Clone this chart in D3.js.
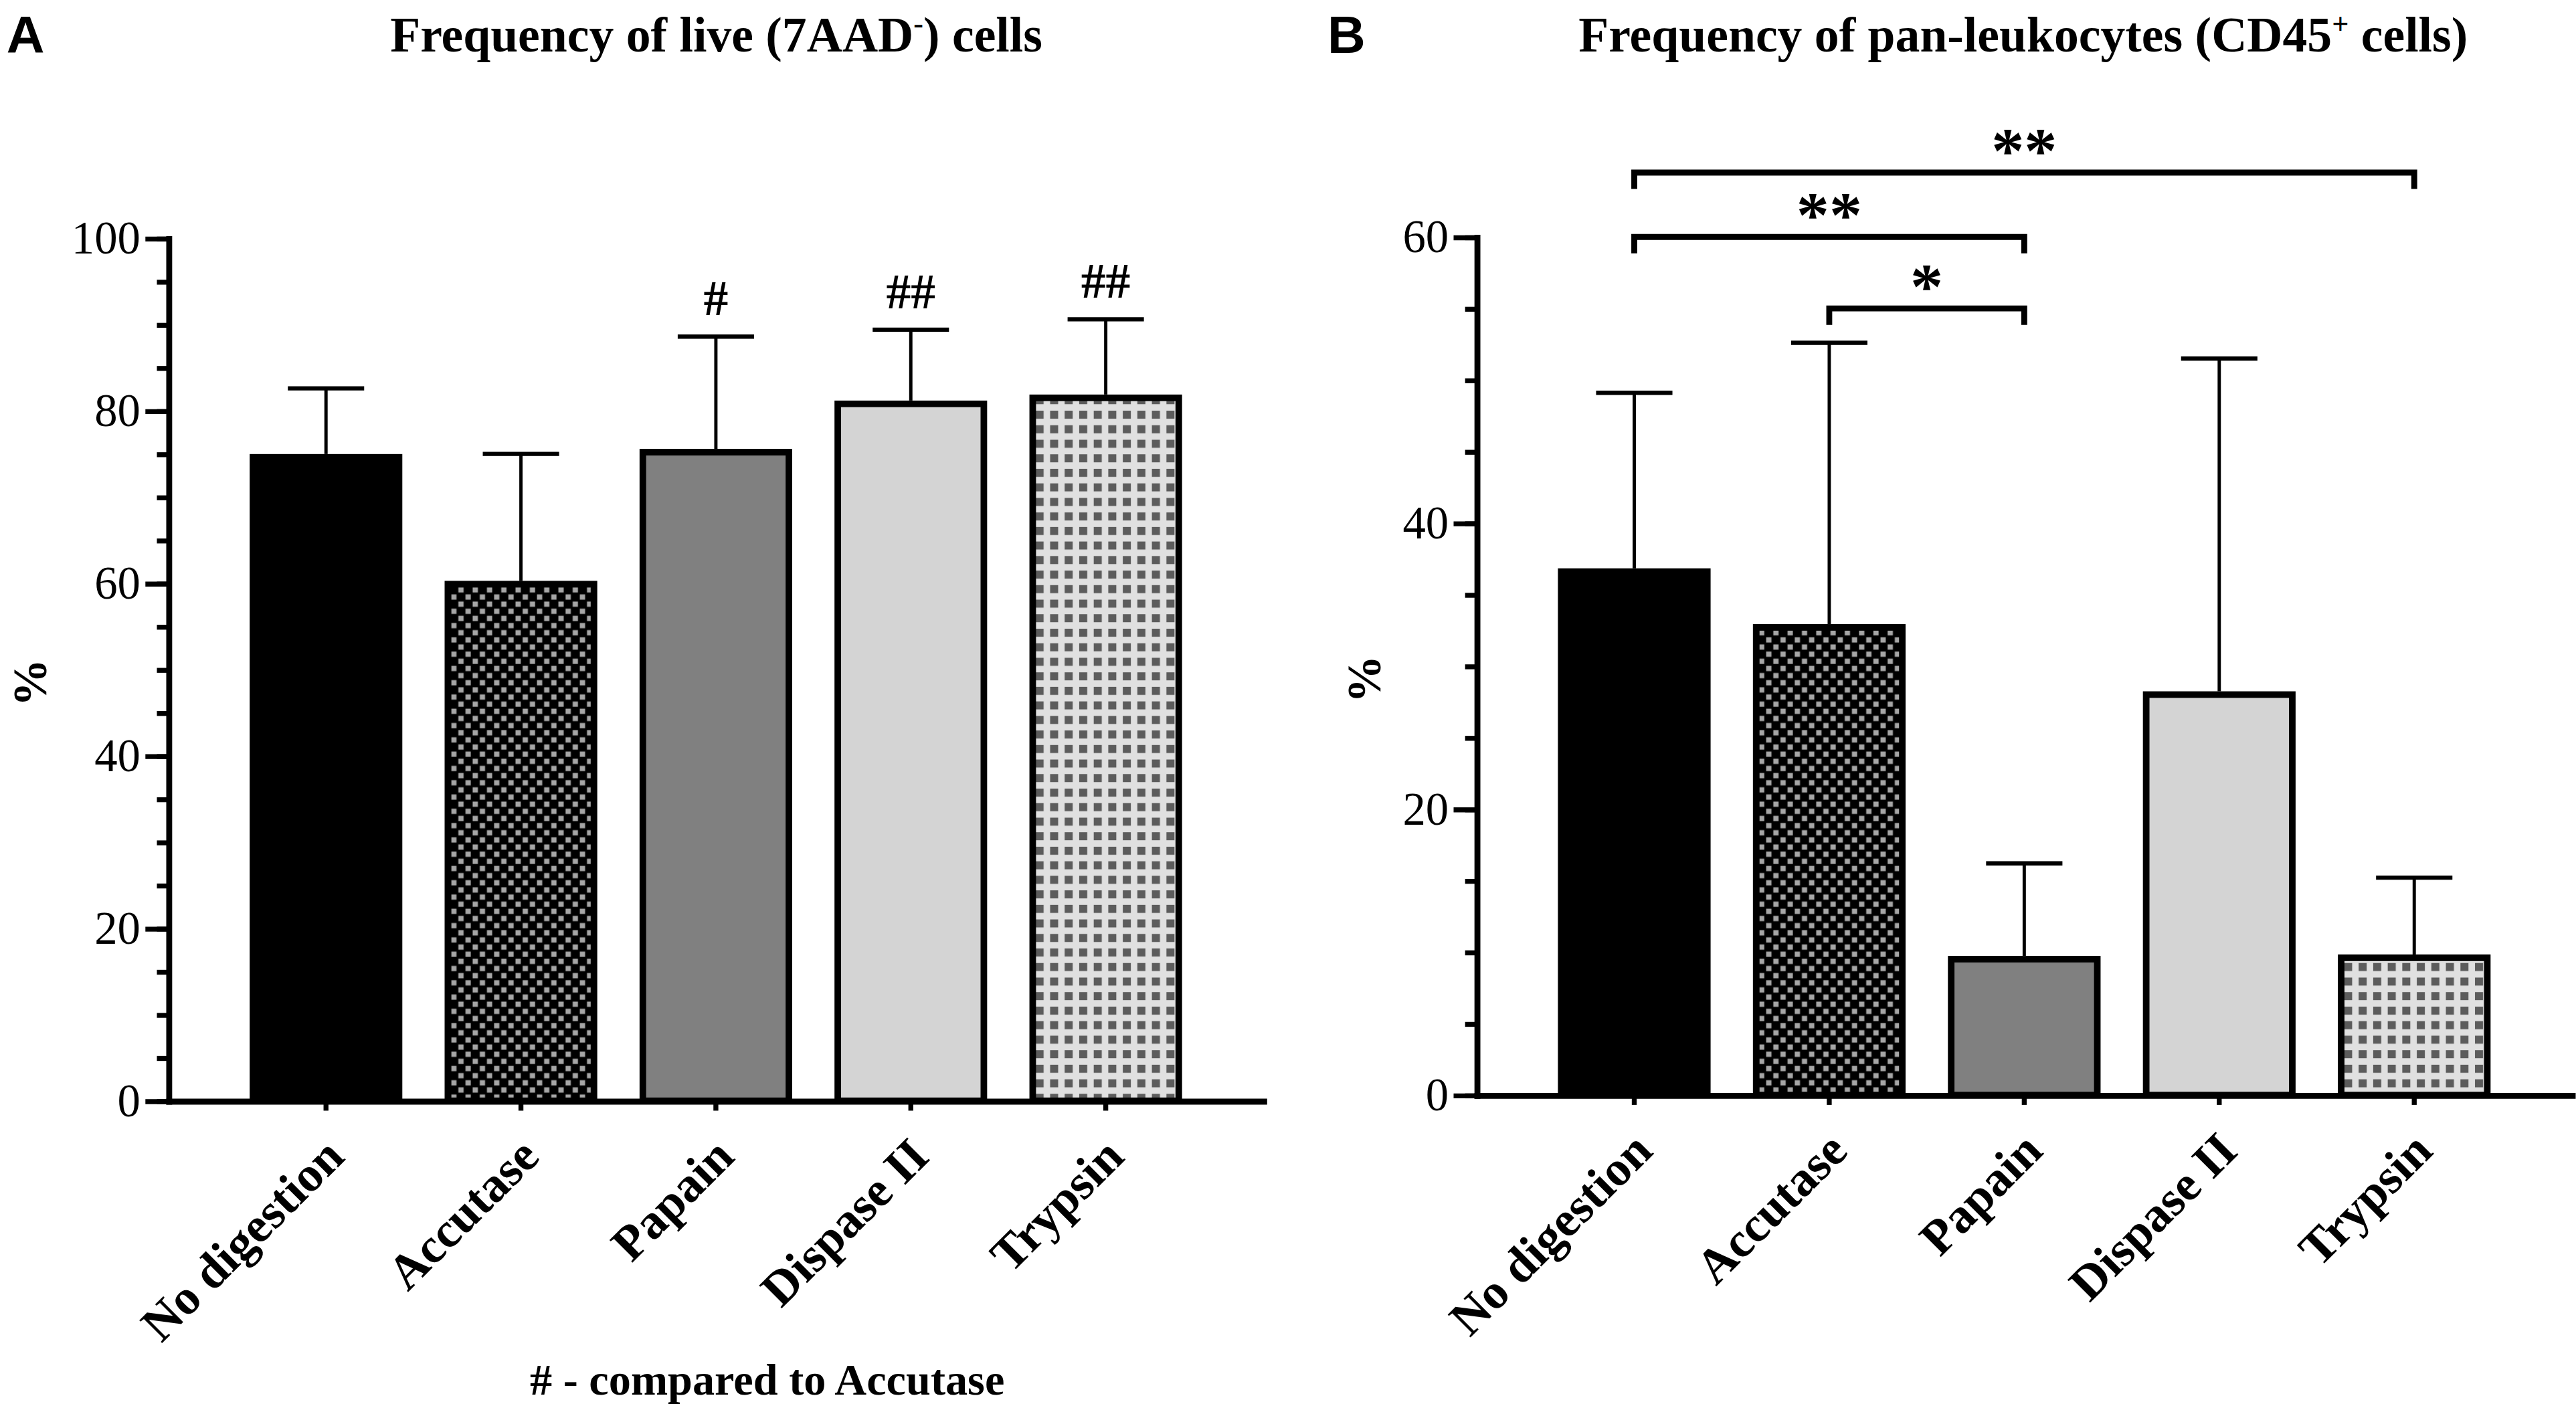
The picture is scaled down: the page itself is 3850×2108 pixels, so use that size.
<!DOCTYPE html>
<html>
<head>
<meta charset="utf-8">
<script src="https://cdn.jsdelivr.net/npm/d3@7"></script>
<style>
  body { margin: 0; background: #fff; }
</style>
</head>
<body>
<script>
// Groups, shared by both panels
const categories = ["No digestion", "Accutase", "Papain", "Dispase II", "Trypsin"];

// Panel A: live (7AAD-) cells, mean and upper SD
const liveMean = [74.6, 59.9, 75.2, 80.8, 81.5];
const liveSd = [8.0, 15.1, 13.4, 8.6, 9.1];
const liveMarks = ["", "", "#", "##", "##"];
const liveTicks = [0, 20, 40, 60, 80, 100];

// Panel B: CD45+ cells, mean and upper SD
const cd45Mean = [36.6, 32.7, 9.5, 28.0, 9.6];
const cd45Sd = [12.5, 19.9, 6.7, 23.5, 5.6];
const cd45Ticks = [0, 20, 40, 60];
// significance brackets: from, to, level (in %), label
const cd45Pairs = [
  ["No digestion", "Trypsin", 64.5, "**"],
  ["No digestion", "Papain", 60, "**"],
  ["Accutase", "Papain", 55, "*"]
];

const barFills = ["#000", "url(#checker)", "#808080", "#d4d4d4", "url(#dots)"];
const serif = "'Liberation Serif', 'Times New Roman', serif";

const W = 1568, H = 858;
const svg = d3.select("body").append("svg")
    .attr("width", 3850)
    .attr("height", 2108)
    .attr("viewBox", `0 0 ${W} ${H}`);

// fill patterns
const defs = svg.append("defs");
const checker = defs.append("pattern").attr("id", "checker")
    .attr("patternUnits", "userSpaceOnUse").attr("width", 8.7).attr("height", 8.7);
checker.append("rect").attr("width", 8.7).attr("height", 8.7).attr("fill", "#000");
checker.append("rect").attr("x", 0.6).attr("y", 0.6).attr("width", 3.2).attr("height", 3.2).attr("fill", "#a6a6a6");
checker.append("rect").attr("x", 4.95).attr("y", 4.95).attr("width", 3.2).attr("height", 3.2).attr("fill", "#a6a6a6");

const dots = defs.append("pattern").attr("id", "dots")
    .attr("patternUnits", "userSpaceOnUse").attr("width", 8.85).attr("height", 8.85);
dots.append("rect").attr("width", 8.85).attr("height", 8.85).attr("fill", "#e0e0e0");
dots.append("rect").attr("x", 2).attr("y", 2).attr("width", 4.9).attr("height", 4.9).attr("fill", "#5c5c5c");

function panel(cfg) {
  const g = svg.append("g");

  const x = d3.scaleBand()
      .domain(categories)
      .range([cfg.left, cfg.right])
      .paddingInner(0.217)
      .paddingOuter(0.417);

  const y = d3.scaleLinear()
      .domain([0, cfg.max])
      .range([cfg.bottom, cfg.top]);

  const rows = categories.map((c, i) => ({ c, m: cfg.mean[i], sd: cfg.sd[i], fill: barFills[i], mark: cfg.marks ? cfg.marks[i] : "" }));

  // bars
  g.append("g").selectAll("rect")
    .data(rows)
    .join("rect")
      .attr("x", d => x(d.c) + 2)
      .attr("width", x.bandwidth() - 4)
      .attr("y", d => y(d.m))
      .attr("height", d => y(0) - y(d.m))
      .attr("fill", d => d.fill)
      .attr("stroke", "#000")
      .attr("stroke-width", 4);

  // error bars (upper only)
  const eb = g.append("g").attr("stroke", "#000");
  eb.selectAll("line.v")
    .data(rows)
    .join("line")
      .attr("class", "v")
      .attr("x1", d => x(d.c) + x.bandwidth() / 2)
      .attr("x2", d => x(d.c) + x.bandwidth() / 2)
      .attr("y1", d => y(d.m) - 2)
      .attr("y2", d => y(d.m + d.sd))
      .attr("stroke-width", 2);
  eb.selectAll("line.cap")
    .data(rows)
    .join("line")
      .attr("class", "cap")
      .attr("x1", d => x(d.c) + x.bandwidth() / 4)
      .attr("x2", d => x(d.c) + x.bandwidth() * 3 / 4)
      .attr("y1", d => y(d.m + d.sd))
      .attr("y2", d => y(d.m + d.sd))
      .attr("stroke-width", 2.6);

  // # marks above error bars
  g.append("g").selectAll("text")
    .data(rows.filter(d => d.mark))
    .join("text")
      .attr("x", d => x(d.c) + x.bandwidth() / 2)
      .attr("y", d => y(d.m + d.sd) - 13)
      .attr("text-anchor", "middle")
      .attr("font-family", serif)
      .attr("font-weight", "bold")
      .attr("font-size", 30)
      .text(d => d.mark);

  // minor y ticks
  g.append("g")
      .attr("transform", `translate(${cfg.left},0)`)
      .call(d3.axisLeft(y).tickValues(d3.range(0, cfg.max + 1, 5)).tickSize(7).tickFormat(""))
      .call(s => s.select(".domain").remove())
      .call(s => s.selectAll("line").attr("stroke", "#000").attr("stroke-width", 3));

  // major y axis
  g.append("g")
      .attr("transform", `translate(${cfg.left},0)`)
      .call(d3.axisLeft(y).tickValues(cfg.ticks).tickSize(14).tickSizeOuter(0).tickPadding(3))
      .call(s => s.select(".domain").attr("stroke", "#000").attr("stroke-width", 3.6).attr("stroke-linecap", "square"))
      .call(s => s.selectAll(".tick line").attr("stroke", "#000").attr("stroke-width", 3))
      .call(s => s.selectAll(".tick text")
          .attr("font-family", serif)
          .attr("font-size", 28)
          .attr("fill", "#000"));

  // x axis
  g.append("g")
      .attr("transform", `translate(0,${cfg.bottom})`)
      .call(d3.axisBottom(x).tickSize(6).tickSizeOuter(0))
      .call(s => s.select(".domain").attr("stroke", "#000").attr("stroke-width", 3.6).attr("stroke-linecap", "square"))
      .call(s => s.selectAll(".tick line").attr("stroke", "#000").attr("stroke-width", 3))
      .call(s => s.selectAll(".tick text")
          .attr("x", 0)
          .attr("y", 0)
          .attr("dy", "0.35em")
          .attr("transform", "translate(5,28) rotate(-45)")
          .attr("text-anchor", "end")
          .attr("font-family", serif)
          .attr("font-weight", "bold")
          .attr("font-size", 30)
          .attr("fill", "#000"));

  // significance brackets
  if (cfg.pairs) {
    const br = g.append("g");
    cfg.pairs.forEach(([a, b, lvl, lab]) => {
      const x1 = x(a) + x.bandwidth() / 2;
      const x2 = x(b) + x.bandwidth() / 2;
      const yy = y(lvl);
      br.append("path")
          .attr("d", `M${x1},${yy + 10}V${yy}H${x2}V${yy + 10}`)
          .attr("fill", "none")
          .attr("stroke", "#000")
          .attr("stroke-width", 3.6);
      br.append("text")
          .attr("x", (x1 + x2) / 2)
          .attr("y", yy)
          .attr("text-anchor", "middle")
          .attr("font-family", serif)
          .attr("font-weight", "bold")
          .attr("font-size", 40)
          .text(lab);
    });
  }

  // y label
  svg.append("text")
      .attr("transform", `translate(${cfg.ylabX},${(cfg.top + cfg.bottom) / 2 + 8}) rotate(-90)`)
      .attr("text-anchor", "middle")
      .attr("font-family", serif)
      .attr("font-weight", "bold")
      .attr("font-size", 29)
      .text("%");

  // title with superscript
  const t = svg.append("text")
      .attr("x", cfg.titleX)
      .attr("y", 31)
      .attr("text-anchor", "middle")
      .attr("font-family", serif)
      .attr("font-weight", "bold")
      .attr("font-size", 30);
  t.append("tspan").text(cfg.title[0]);
  t.append("tspan").attr("dy", -11).attr("font-size", 18).text(cfg.title[1]);
  t.append("tspan").attr("dy", 11).text(cfg.title[2]);

  // panel letter
  svg.append("text")
      .attr("x", cfg.letterX)
      .attr("y", 32)
      .attr("font-family", "'Liberation Sans', Arial, sans-serif")
      .attr("font-weight", "bold")
      .attr("font-size", 32)
      .text(cfg.letter);
}

panel({
  letter: "A", letterX: 4,
  title: ["Frequency of live (7AAD", "-", ") cells"], titleX: 436,
  left: 102.5, right: 769, top: 144.8, bottom: 670, max: 100,
  ticks: liveTicks, mean: liveMean, sd: liveSd, marks: liveMarks,
  ylabX: 28
});

panel({
  letter: "B", letterX: 808,
  title: ["Frequency of pan-leukocytes (CD45", "+", " cells)"], titleX: 1231.5,
  left: 898.8, right: 1565.5, top: 144, bottom: 666.5, max: 60,
  ticks: cd45Ticks, mean: cd45Mean, sd: cd45Sd, pairs: cd45Pairs,
  ylabX: 840
});

// footnote under panel A
svg.append("text")
    .attr("x", 467)
    .attr("y", 849)
    .attr("text-anchor", "middle")
    .attr("font-family", serif)
    .attr("font-weight", "bold")
    .attr("font-size", 27)
    .text("# - compared to Accutase");
</script>
</body>
</html>
